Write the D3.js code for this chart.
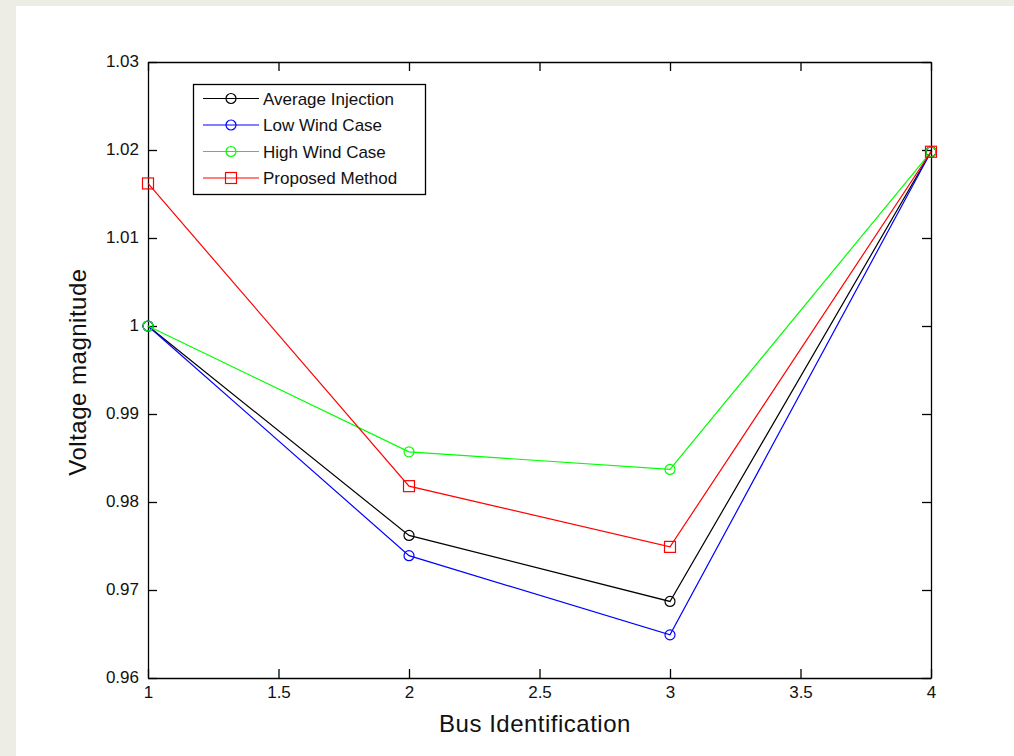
<!DOCTYPE html>
<html>
<head>
<meta charset="utf-8">
<script src="https://cdn.jsdelivr.net/npm/d3@7"></script>
<style>
  html, body { margin: 0; padding: 0; background: #edede5; }
  svg { display: block; }
</style>
</head>
<body>
<svg id="chart"></svg>
<script>
// bus numbers and voltage per case
const buses = [1, 2, 3, 4];
const avgInjection = [1.0, 0.9762, 0.9687, 1.0198];
const lowWind = [1.0, 0.9739, 0.9649, 1.0198];
const highWind = [1.0, 0.9857, 0.9837, 1.0198];
const proposed = [1.0162, 0.9818, 0.9749, 1.0198];

const seriesNames = ["Average Injection", "Low Wind Case", "High Wind Case", "Proposed Method"];
const seriesColors = ["#000000", "#0000ff", "#00ff00", "#ff0000"];
const seriesMarkers = ["circle", "circle", "circle", "square"];

const xTicks = [1, 1.5, 2, 2.5, 3, 3.5, 4];
const xTickLabels = ["1", "1.5", "2", "2.5", "3", "3.5", "4"];
const yTicks = [0.96, 0.97, 0.98, 0.99, 1.0, 1.01, 1.02, 1.03];
const yTickLabels = ["0.96", "0.97", "0.98", "0.99", "1", "1.01", "1.02", "1.03"];

const W = 1014, H = 756;
const plot = { left: 148, right: 931, top: 62, bottom: 678 };
const font = "'Liberation Sans', Arial, Helvetica, sans-serif";

const svg = d3.select("#chart").attr("width", W).attr("height", H);

// white figure area on beige page
svg.append("rect").attr("x", 16).attr("y", 6).attr("width", W - 16).attr("height", H - 6)
  .attr("fill", "#ffffff");

const x = d3.scaleLinear().domain([1, 4]).range([plot.left, plot.right]);
const y = d3.scaleLinear().domain([0.96, 1.03]).range([plot.bottom, plot.top]);

function styleAxis(g) {
  g.select(".domain").attr("stroke", "#000").attr("stroke-width", 1.3);
  g.selectAll(".tick line").attr("stroke", "#000").attr("stroke-width", 1.3);
  g.selectAll(".tick text").attr("fill", "#111").style("font-family", font).style("font-size", "17px");
}

const xAxis = svg.append("g").attr("transform", `translate(0,${plot.bottom})`)
  .call(d3.axisBottom(x).tickValues(xTicks).tickFormat((d, i) => xTickLabels[i])
    .tickSizeInner(-9).tickSizeOuter(0).tickPadding(8));
styleAxis(xAxis);

const yAxis = svg.append("g").attr("transform", `translate(${plot.left},0)`)
  .call(d3.axisLeft(y).tickValues(yTicks).tickFormat((d, i) => yTickLabels[i])
    .tickSizeInner(-9).tickSizeOuter(0).tickPadding(9));
styleAxis(yAxis);
yAxis.selectAll(".tick text").attr("dy", "0.24em");

const topAxis = svg.append("g").attr("transform", `translate(0,${plot.top})`)
  .call(d3.axisTop(x).tickValues(xTicks).tickFormat("").tickSizeInner(-9).tickSizeOuter(0));
styleAxis(topAxis);

const rightAxis = svg.append("g").attr("transform", `translate(${plot.right},0)`)
  .call(d3.axisRight(y).tickValues(yTicks).tickFormat("").tickSizeInner(-9).tickSizeOuter(0));
styleAxis(rightAxis);

// axis labels
svg.append("text")
  .attr("x", 535).attr("y", 732)
  .attr("text-anchor", "middle")
  .style("font-family", font).style("font-size", "24px").style("letter-spacing", "0.5px")
  .attr("fill", "#111")
  .text("Bus Identification");

svg.append("text")
  .attr("transform", "translate(86,372) rotate(-90)")
  .attr("text-anchor", "middle")
  .style("font-family", font).style("font-size", "24px").style("letter-spacing", "0.5px")
  .attr("fill", "#111")
  .text("Voltage magnitude");

// series
const allSeries = [avgInjection, lowWind, highWind, proposed];
const line = d3.line().x((d, i) => x(buses[i])).y(d => y(d));

function drawMarker(g, kind, cx, cy, color) {
  if (kind === "square") {
    g.append("rect").attr("x", cx - 5.5).attr("y", cy - 5.5).attr("width", 11).attr("height", 11)
      .attr("fill", "none").attr("stroke", color).attr("stroke-width", 1.2);
  } else {
    g.append("circle").attr("cx", cx).attr("cy", cy).attr("r", 5)
      .attr("fill", "none").attr("stroke", color).attr("stroke-width", 1.2);
  }
}

allSeries.forEach(function (vals, s) {
  const g = svg.append("g");
  g.append("path").datum(vals).attr("d", line)
    .attr("fill", "none").attr("stroke", seriesColors[s]).attr("stroke-width", 1.2);
  vals.forEach(function (v, i) {
    drawMarker(g, seriesMarkers[s], x(buses[i]), y(v), seriesColors[s]);
  });
});

// legend
const legend = svg.append("g");
legend.append("rect").attr("x", 193.5).attr("y", 84.5).attr("width", 232).attr("height", 110)
  .attr("fill", "#fff").attr("stroke", "#000").attr("stroke-width", 1.3);

const rowY = [98.5, 125, 151.5, 178];
seriesNames.forEach(function (name, s) {
  const ry = rowY[s];
  legend.append("line").attr("x1", 203).attr("x2", 259).attr("y1", ry).attr("y2", ry)
    .attr("stroke", seriesColors[s]).attr("stroke-width", 1.2);
  drawMarker(legend, seriesMarkers[s], 231, ry, seriesColors[s]);
  legend.append("text").attr("x", 263).attr("y", ry + 6)
    .style("font-family", font).style("font-size", "17px")
    .attr("fill", "#111")
    .text(name);
});
</script>
</body>
</html>
